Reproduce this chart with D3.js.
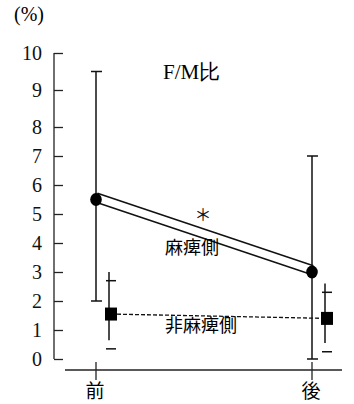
<!DOCTYPE html>
<html lang="ja">
<head>
<meta charset="utf-8">
<title>F/M比</title>
<script src="https://d3js.org/d3.v7.min.js"></script>
<style>
  body { margin: 0; background: #fff; }
</style>
</head>
<body>
<div id="chart"></div>
<script>
// data
var times = ["前", "後"];
var paraMean = [5.5, 3.0];     // 麻痺側
var paraHi = [9.5, 7.0];
var paraLo = [2.0, 0.0];
var nonMean = [1.55, 1.4];     // 非麻痺側
var nonHi = [3.0, 2.6];        // whisker line ends
var nonLo = [0.65, 0.55];
var nonCapHi = [2.7, 2.3];     // cap marks (drawn a bit off the line ends)
var nonCapLo = [0.35, 0.25];
var yTicks = [0, 1, 2, 3, 4, 5, 6, 7, 8, 9, 10];

var width = 354, height = 404;
var serif = "'Liberation Serif', 'DejaVu Serif', serif";
var jp = "'Noto Sans CJK JP', sans-serif";

var svg = d3.select("#chart").append("svg")
    .attr("width", width)
    .attr("height", height);

// top of the axis is stretched a bit in the original
var y = d3.scaleLinear().domain([0, 8, 10]).range([359, 127, 53]);
var x = d3.scalePoint().domain(times).range([96, 312]);
var offset = 15; // squares sit right of the tick

// y axis
var yAxis = svg.append("g")
    .attr("transform", "translate(54,0)")
    .call(d3.axisRight(y).tickValues(yTicks).tickSize(9).tickFormat(d3.format("d")));
yAxis.select(".domain").attr("d", "M0," + y(10) + "V" + y(0)).attr("stroke", "#222").attr("stroke-width", 1.3);
yAxis.selectAll(".tick line").attr("stroke", "#222").attr("stroke-width", 1.3);
yAxis.selectAll(".tick text")
    .style("font-family", serif)
    .style("font-size", "20px")
    .attr("x", -12)
    .attr("dy", "0.34em")
    .attr("text-anchor", "end")
    .attr("fill", "#111");

// x axis
svg.append("line")
    .attr("x1", 65).attr("x2", 342)
    .attr("y1", 370).attr("y2", 370)
    .attr("stroke", "#222").attr("stroke-width", 1.3);
svg.selectAll(".xtick").data(times).enter().append("line")
    .attr("x1", function(d) { return x(d); })
    .attr("x2", function(d) { return x(d); })
    .attr("y1", 362).attr("y2", 380)
    .attr("stroke", "#222").attr("stroke-width", 1.3);
svg.selectAll(".xlab").data(times).enter().append("text")
    .style("font-family", jp).style("font-size", "19px")
    .attr("x", function(d) { return x(d) - 1; })
    .attr("y", 398)
    .attr("text-anchor", "middle")
    .text(function(d) { return d; });

// labels
svg.append("text").style("font-family", serif).style("font-size", "20px")
    .attr("x", 14).attr("y", 21).text("(%)");
svg.append("text").style("font-family", serif).style("font-size", "21px")
    .attr("x", 163).attr("y", 79).text("F/M比");

// 麻痺側: double line between means
var pLine = d3.line()
    .x(function(d, i) { return x(times[i]); })
    .y(function(d) { return y(d) - 2; });
svg.append("path").datum(paraMean).attr("d", pLine)
    .attr("fill", "none").attr("stroke", "#111").attr("stroke-width", 10.5);
svg.append("path").datum(paraMean).attr("d", pLine)
    .attr("fill", "none").attr("stroke", "#fff").attr("stroke-width", 7.5);

// 麻痺側 error bars
times.forEach(function(t, i) {
    var cx = x(t);
    svg.append("line")
        .attr("x1", cx).attr("x2", cx)
        .attr("y1", y(paraHi[i])).attr("y2", y(paraLo[i]))
        .attr("stroke", "#111").attr("stroke-width", 1.5);
    [paraHi[i], paraLo[i]].forEach(function(v) {
        svg.append("line")
            .attr("x1", cx - 5).attr("x2", cx + 6)
            .attr("y1", y(v)).attr("y2", y(v))
            .attr("stroke", "#111").attr("stroke-width", 1.5);
    });
});

svg.selectAll(".dot").data(paraMean).enter().append("ellipse")
    .attr("cx", function(d, i) { return x(times[i]); })
    .attr("cy", function(d) { return y(d); })
    .attr("rx", 5.8).attr("ry", 6.5)
    .attr("fill", "#000");

// 非麻痺側: dashed line between squares
var nLine = d3.line()
    .x(function(d, i) { return x(times[i]) + offset; })
    .y(function(d) { return y(d); });
svg.append("path").datum(nonMean).attr("d", nLine)
    .attr("fill", "none").attr("stroke", "#111")
    .attr("stroke-width", 1.3).attr("stroke-dasharray", "4,2");

times.forEach(function(t, i) {
    var cx = x(t) + offset;
    svg.append("line")
        .attr("x1", cx - 2).attr("x2", cx - 2)
        .attr("y1", y(nonHi[i])).attr("y2", y(nonLo[i]))
        .attr("stroke", "#111").attr("stroke-width", 1.5);
    [nonCapHi[i], nonCapLo[i]].forEach(function(v) {
        svg.append("line")
            .attr("x1", cx - 5).attr("x2", cx + 5)
            .attr("y1", y(v)).attr("y2", y(v))
            .attr("stroke", "#111").attr("stroke-width", 1.5);
    });
});

svg.selectAll(".sq").data(nonMean).enter().append("rect")
    .attr("x", function(d, i) { return x(times[i]) + offset - 6; })
    .attr("y", function(d) { return y(d) - 6.5; })
    .attr("width", 12).attr("height", 13)
    .attr("fill", "#000");

// series labels
svg.append("text").style("font-family", jp).style("font-size", "18px")
    .attr("x", 192).attr("y", 254).attr("text-anchor", "middle")
    .text("麻痺側");
svg.append("text").style("font-family", jp).style("font-size", "18px")
    .attr("x", 201).attr("y", 332).attr("text-anchor", "middle")
    .text("非麻痺側");
svg.append("text").style("font-family", jp).style("font-size", "17px")
    .attr("x", 203).attr("y", 221).attr("text-anchor", "middle")
    .attr("fill", "#111").text("＊");
</script>
</body>
</html>
